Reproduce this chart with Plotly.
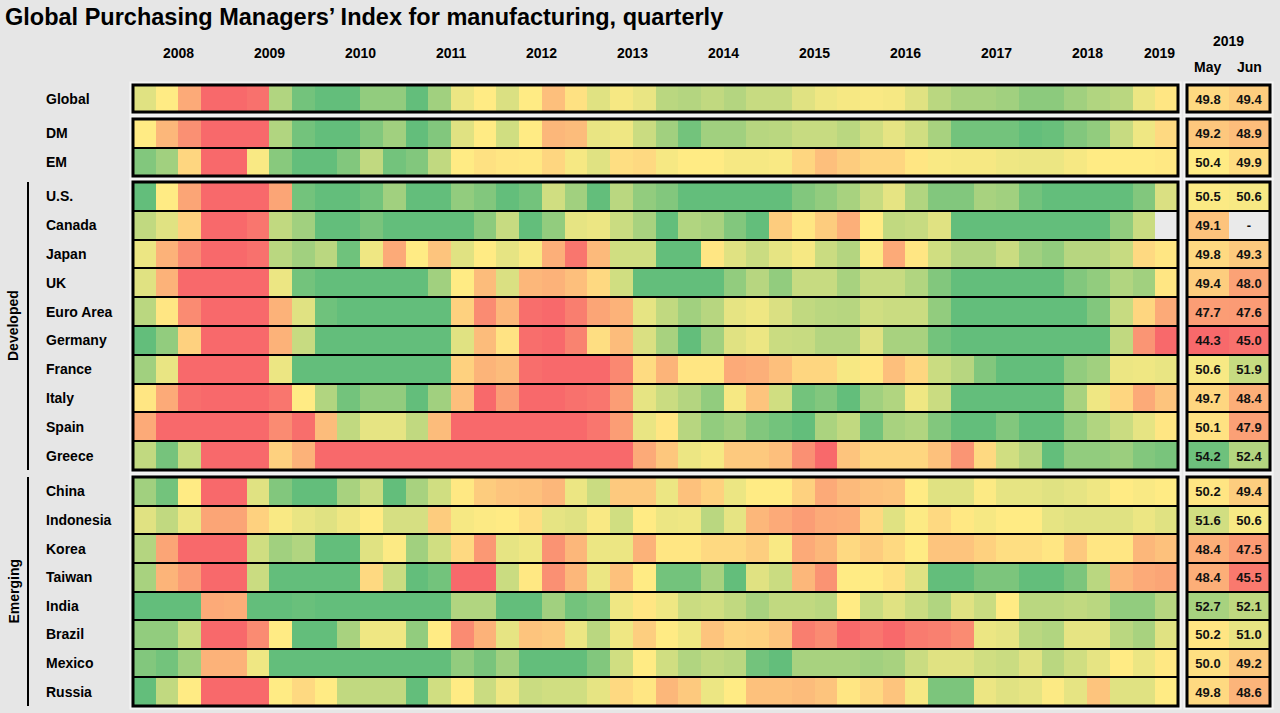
import plotly.graph_objects as go

# ---------------- data ----------------
quarters = ["2008Q1", "2008Q2", "2008Q3", "2008Q4", "2009Q1", "2009Q2", "2009Q3", "2009Q4",
            "2010Q1", "2010Q2", "2010Q3", "2010Q4", "2011Q1", "2011Q2", "2011Q3", "2011Q4",
            "2012Q1", "2012Q2", "2012Q3", "2012Q4", "2013Q1", "2013Q2", "2013Q3", "2013Q4",
            "2014Q1", "2014Q2", "2014Q3", "2014Q4", "2015Q1", "2015Q2", "2015Q3", "2015Q4",
            "2016Q1", "2016Q2", "2016Q3", "2016Q4", "2017Q1", "2017Q2", "2017Q3", "2017Q4",
            "2018Q1", "2018Q2", "2018Q3", "2018Q4", "2019Q1", "2019Q2"]
year_labels = ["2008", "2009", "2010", "2011", "2012", "2013", "2014", "2015",
               "2016", "2017", "2018", "2019"]
table_months = ["May", "Jun"]
table_year = "2019"

rows_top = ["Global"]
rows_dm_em = ["DM", "EM"]
rows_developed = ["U.S.", "Canada", "Japan", "UK", "Euro Area", "Germany", "France",
                  "Italy", "Spain", "Greece"]
rows_emerging = ["China", "Indonesia", "Korea", "Taiwan", "India", "Brazil", "Mexico", "Russia"]

pmi_global = [51, 50, 47.5, 40, 36, 45.3, 52.5, 54.5, 55.5, 55.5, 53.5, 53.5, 55.5, 53, 50.6, 50,
              51.2, 50, 48.3, 49.6, 51, 50.3, 50.7, 52.2, 52.4, 52, 52.4, 51.8, 51.8, 51, 50.5, 50.3,
              50.2, 50.3, 51, 52.2, 52.8, 52.8, 53, 53.7, 53.7, 53, 52.5, 52.2, 50.6, 49.8]
pmi_dm = [50, 48, 46.5, 40, 36, 43, 52.5, 54.5, 55.5, 55.5, 54, 53, 56, 54, 51, 50,
          51.5, 50, 48, 48.2, 50.7, 50.5, 51.7, 53, 54.5, 53, 53, 52.3, 52.2, 51.8, 51.8, 52.2,
          51.5, 50.8, 51.5, 52.8, 54.5, 54.5, 54.5, 55.2, 54.8, 54, 53.5, 51.8, 50.5, 49.3]
pmi_em = [54, 53, 49.2, 42, 42, 50.2, 53.8, 55.2, 55, 54, 52, 54.5, 54, 52, 50, 49.6,
          49.8, 49.9, 49.2, 50.3, 51, 49.5, 49.3, 50.3, 50, 50, 50.3, 50.3, 50.2, 49.2, 48.3, 48.8,
          49.2, 49.2, 49.8, 50.2, 50.3, 50.3, 50.5, 50.6, 50.6, 50.3, 50, 50, 50, 49.9]
pmi_us = [55, 50, 47.3, 38, 36, 42, 47.3, 54.5, 57, 57, 54.5, 53, 57, 55, 53.5, 54,
          55, 54.5, 51.5, 53, 55, 52.2, 53.5, 54, 55.5, 56.5, 57, 56, 55.5, 54, 53.5, 52.8,
          51.8, 50.8, 52.5, 54, 54, 52.8, 53, 54.5, 55.5, 55.8, 55.8, 55.5, 54, 51.2]
pmi_canada = [52, 51, 49, 42, 40, 45.5, 52, 53, 55.2, 56, 54.3, 55, 55.2, 55.2, 55, 53.7,
              51.8, 55, 53.5, 50.8, 50.6, 51.7, 52.8, 55, 52.5, 52.8, 54, 55, 48.8, 49.8, 48.8, 47.7,
              50, 52, 51.8, 51, 55, 55.5, 55.5, 55, 55.5, 55.5, 55.2, 53.5, 51.7, None]
pmi_japan = [50.6, 47.8, 46.3, 38, 32, 45.3, 52.2, 53, 52.2, 54.6, 50.5, 47.5, 50, 48.5, 51, 50,
             50.8, 50.2, 47.7, 45.5, 48.1, 51.5, 51.5, 55, 55.5, 49.8, 51, 51.7, 50.8, 50.3, 51.7, 52.4,
             50.1, 47.5, 49.8, 51.5, 52.4, 52.4, 51.7, 53, 53.5, 52.3, 52.3, 51.8, 49.3, 49.8]
pmi_uk = [51, 47.8, 42, 36, 36, 44, 50.6, 54.5, 56.5, 57.5, 55.5, 57, 57.5, 53, 50, 48.2,
          51.2, 48, 47.8, 48.3, 49.3, 51.5, 56.5, 58, 56.3, 57, 53.5, 52.3, 53.5, 51.8, 51.8, 52.8,
          51.8, 51.8, 52.5, 54, 55.5, 56, 56, 56, 56.5, 54, 53.5, 52.5, 53, 49.8]
pmi_euro = [52.2, 49.8, 46.3, 36, 34, 43, 47.8, 51, 54.6, 56, 56, 55, 57.5, 55, 49, 46.3,
            48, 45.2, 44.8, 45.8, 47.3, 47.8, 50.8, 52, 53, 52.3, 50.8, 50.5, 51.2, 52, 52.2, 52.3,
            51.5, 51.7, 51.7, 53.5, 55.5, 56.5, 57.5, 58.5, 58.2, 55.5, 54, 51.8, 49.2, 47.5]
pmi_germany = [55, 53.5, 49, 38, 33, 40, 47.8, 51.8, 57, 61, 57, 58, 61, 58, 51, 48.2,
               49.7, 45.2, 44.5, 46, 49.5, 48.2, 51.2, 52.8, 55, 53, 51, 50.6, 51.7, 51.8, 52.4, 52.4,
               51, 52.8, 52.8, 54.5, 56.5, 58, 59.5, 60.5, 62, 58, 55.5, 52, 46.7, 44.5]
pmi_france = [53, 50.7, 45, 38, 35, 42, 50.6, 55.5, 56, 57, 56, 56, 57, 55.5, 49, 47.9,
              48.2, 45.2, 44.5, 44, 44.8, 46.2, 49.4, 47.9, 49.8, 49.8, 47.5, 47.7, 48.3, 49.2, 49.2, 50.3,
              49.8, 48.3, 49.2, 51.7, 52.3, 54, 55.5, 56, 56.5, 53.5, 53, 50.6, 50.5, 50.7]
pmi_italy = [49.8, 47.5, 45.2, 38, 35, 41, 45.5, 50, 52.5, 54.5, 53.5, 53.5, 55.5, 53, 48.3, 44.5,
             47, 45, 44.5, 45.3, 45.5, 47, 50.8, 51.7, 52.4, 53.5, 50.3, 48.5, 51.5, 54.5, 54, 55,
             53, 52.5, 50.5, 51.7, 55.5, 56, 56.5, 56.5, 57.5, 52.8, 50.5, 49.2, 47.5, 48.5]
pmi_spain = [47.5, 44.5, 41, 36, 34, 38, 46.3, 45.2, 48.2, 52, 50.8, 50.8, 52, 48.2, 44.5, 44,
             44.8, 43, 43.5, 44.5, 45.5, 47, 50.7, 49.8, 52.3, 53.5, 53, 54, 54.5, 55, 52.7, 52,
             54.5, 52.8, 52.5, 54, 55, 55, 54, 55.5, 55.5, 53.5, 52.5, 51.7, 50.8, 49.8]
pmi_greece = [52, 54.4, 51.7, 42, 40, 42, 49, 47.8, 43, 43.5, 42.5, 42.5, 43, 42, 42.5, 41,
              41.5, 41, 42.5, 41.5, 42.5, 45, 47.5, 48.6, 50.6, 50.3, 48.7, 48.7, 48.3, 46.5, 41, 48.5,
              49.2, 49.2, 49.2, 48.4, 46.7, 49.3, 51.5, 52.3, 55, 53.5, 53.5, 53.2, 54, 54.3]
pmi_china = [53, 54.5, 50, 42, 43.5, 51, 54, 55.5, 56, 52.8, 51.7, 55, 52.8, 51.5, 49.9, 48.8,
             48.5, 48.4, 48, 50.6, 51.7, 48.7, 48.7, 50.6, 48.4, 49, 50.6, 50, 50, 49, 47.5, 48.1,
             48.4, 48.5, 50, 51, 51, 50.1, 50.8, 50.8, 51, 50.8, 50.5, 50, 50.2, 50]
pmi_indonesia = [51, 52, 50.6, 47.3, 47.3, 49, 50.2, 50.7, 51, 50.5, 50, 51.3, 51.3, 48.8, 50.3, 50.1,
                 50, 49.5, 50.8, 51, 50.2, 51.5, 50, 50.6, 50.5, 52.2, 50.8, 48, 47.5, 47, 47.5, 47.6,
                 49.3, 51, 50.1, 49.3, 49.9, 50.3, 50, 50, 50.8, 51, 51, 51, 50.6, 51]
pmi_korea = [52.4, 47.3, 45, 38, 40, 51.5, 53, 52.5, 55.5, 55.5, 51, 50.1, 53, 51.5, 49.3, 46.8,
             50.8, 50.5, 46.6, 48, 50.6, 50.6, 47.8, 49.8, 49.8, 49.3, 49.3, 48.9, 50.2, 47.5, 48, 49.3,
             48.8, 49.3, 50, 48.5, 48.5, 49, 49.5, 49.5, 49.8, 48.7, 49.8, 49.8, 48, 48.4]
pmi_taiwan = [52.8, 47.9, 47, 38, 36, 51.7, 55.5, 56, 56.5, 55.5, 49.3, 51.7, 55.2, 54.5, 45, 44,
              51.7, 49.9, 46.5, 48, 50.6, 48.4, 50, 54.5, 54.5, 52.8, 55.2, 51, 51.7, 48, 46.6, 50,
              50, 49.6, 51, 55, 56, 54.2, 54.2, 55.2, 55.2, 54.2, 52.2, 48, 47.5, 47.3]
pmi_india = [57, 57, 56, 47.5, 47.6, 55.2, 55, 54.8, 57, 58, 57, 57, 57.5, 56, 52.5, 52.5,
             55.5, 55, 53, 54.5, 54, 50.5, 49.8, 50.5, 51.7, 51.5, 52, 52.8, 52, 52, 52.2, 50,
             51.7, 51, 51.7, 52.5, 51, 51.7, 50, 52.2, 52.2, 52, 52.2, 53.5, 53.5, 52.3]
pmi_brazil = [53.5, 53.5, 51.7, 40, 42, 46.3, 50, 55.5, 56, 52.8, 50.5, 50.5, 53.5, 50, 46.3, 47.8,
              50.8, 48.5, 48.7, 50.6, 52.2, 50.5, 48.9, 50, 50.5, 48.5, 49.1, 49, 48.5, 45.8, 46.3, 43.5,
              45.5, 44.8, 45.7, 45.9, 46.3, 50.6, 50.8, 52.2, 52.5, 50.8, 50.8, 52.2, 52.8, 51]
pmi_mexico = [54, 54.5, 53, 47.8, 47.8, 50.5, 55.2, 55.5, 56, 56, 55.5, 55.5, 55.5, 55.5, 53.5, 54.3,
              53, 55.2, 55.5, 55.2, 54, 51.5, 50, 51.5, 52.5, 52, 52.2, 54.5, 55, 52.8, 52.8, 52.8,
              53, 52.8, 51.7, 51, 51, 51.5, 51.7, 51, 52.2, 51.5, 50.8, 50, 50.6, 49.9]
pmi_russia = [55.5, 52, 50, 42, 40, 45, 50, 49.3, 50, 52, 52, 52, 55.2, 51.5, 50, 51.7,
              50.5, 51.7, 51.5, 51.5, 50.8, 49.3, 49.8, 48, 48.7, 50.6, 50, 48.4, 48.4, 48.2, 48.5, 49.8,
              49.3, 48.5, 50.3, 54.2, 54.2, 50.6, 51, 50.8, 50.1, 50.8, 48.5, 51, 51, 50]

# monthly readings for 2019 (same row order as all rows)
may_2019 = [49.8, 49.2, 50.4, 50.5, 49.1, 49.8, 49.4, 47.7, 44.3, 50.6, 49.7, 50.1, 54.2,
            50.2, 51.6, 48.4, 48.4, 52.7, 50.2, 50.0, 49.8]
jun_2019 = [49.4, 48.9, 49.9, 50.6, None, 49.3, 48.0, 47.6, 45.0, 51.9, 48.4, 47.9, 52.4,
            49.4, 50.6, 47.5, 45.5, 52.1, 51.0, 49.2, 48.6]

# ---------------- assembly ----------------
all_rows = rows_top + rows_dm_em + rows_developed + rows_emerging
quarterly = [pmi_global, pmi_dm, pmi_em, pmi_us, pmi_canada, pmi_japan, pmi_uk, pmi_euro,
             pmi_germany, pmi_france, pmi_italy, pmi_spain, pmi_greece, pmi_china, pmi_indonesia,
             pmi_korea, pmi_taiwan, pmi_india, pmi_brazil, pmi_mexico, pmi_russia]
row_q = dict(zip(all_rows, quarterly))
row_may = dict(zip(all_rows, may_2019))
row_jun = dict(zip(all_rows, jun_2019))

groups = [("", rows_top), ("", rows_dm_em), ("Developed", rows_developed), ("Emerging", rows_emerging)]

W, H = 1280, 713
FONT = "Arial, Liberation Sans, Helvetica, sans-serif"
BG = "#E6E6E6"
HALO = "#F4F4F4"
MISSING = "#EAEAEA"
heat_px = (133, 1178)
table_px = (1187, 1270)
group_px = [(85, 112), (119, 176), (182, 470), (477, 706)]

heat_cs = [[0, "#F8696B"], [0.5, "#FFEB84"], [1, "#63BE7B"]]
t_min, t_max = 44.5, 54.5
table_cs = [[0, "#F8696B"], [(48.0 - t_min) / (t_max - t_min), "#FBA276"],
            [(50.4 - t_min) / (t_max - t_min), "#FFEB84"], [1, "#63BE7B"]]
gray_cs = [[0, MISSING], [1, MISSING]]

fig = go.Figure()
layout_axes = {}
halo_shapes = []
shapes = []
annotations = []

for g, (gname, rows) in enumerate(groups):
    yname = "y" if g == 0 else f"y{g + 1}"
    ykey = "yaxis" if g == 0 else f"yaxis{g + 1}"
    top, bot = group_px[g]
    layout_axes[ykey] = dict(domain=[1 - bot / H, 1 - top / H], type="category",
                             categoryorder="array", categoryarray=rows,
                             range=[len(rows) - 0.5, -0.5], showticklabels=False,
                             showgrid=False, zeroline=False, fixedrange=True, anchor="x")

    # quarterly heatmap
    z = [row_q[r] for r in rows]
    fig.add_trace(go.Heatmap(x=quarters, y=rows, z=z, xaxis="x", yaxis=yname,
                             colorscale=heat_cs, zmin=45, zmax=55, showscale=False,
                             ygap=2, hoverongaps=False))
    miss = [[1 if v is None else None for v in row_q[r]] for r in rows]
    if any(v is not None for row in miss for v in row):
        fig.add_trace(go.Heatmap(x=quarters, y=rows, z=miss, xaxis="x", yaxis=yname,
                                 colorscale=gray_cs, zmin=0, zmax=1, showscale=False,
                                 ygap=2, hoverinfo="skip"))

    # monthly table
    tz = [[row_may[r], row_jun[r]] for r in rows]
    tt = [["<b>%.1f</b>" % v if v is not None else "" for v in row] for row in tz]
    fig.add_trace(go.Heatmap(x=table_months, y=rows, z=tz, text=tt, texttemplate="%{text}",
                             textfont=dict(family=FONT, size=13, color="#111111"),
                             xaxis="x2", yaxis=yname, colorscale=table_cs, zmin=t_min, zmax=t_max,
                             showscale=False, ygap=2, hoverongaps=False))
    tmiss = [[1 if v is None else None for v in row] for row in tz]
    if any(v is not None for row in tmiss for v in row):
        tmt = [["<b>-</b>" if v is not None else "" for v in row] for row in tmiss]
        fig.add_trace(go.Heatmap(x=table_months, y=rows, z=tmiss, text=tmt, texttemplate="%{text}",
                                 textfont=dict(family=FONT, size=13, color="#111111"),
                                 xaxis="x2", yaxis=yname, colorscale=gray_cs, zmin=0, zmax=1,
                                 showscale=False, ygap=2, hoverinfo="skip"))

    # outer borders (with a light halo just outside)
    hpx = bot - top
    for xr, (xa, xb) in (("x", heat_px), ("x2", table_px)):
        wpx = xb - xa
        halo_shapes.append(dict(type="rect", xref=f"{xr} domain", yref=f"{yname} domain",
                                x0=-2.6 / wpx, x1=1 + 2.6 / wpx, y0=-2.6 / hpx, y1=1 + 2.6 / hpx,
                                line=dict(color=HALO, width=2)))
        shapes.append(dict(type="rect", xref=f"{xr} domain", yref=f"{yname} domain",
                           x0=0, x1=1, y0=0, y1=1, line=dict(color="black", width=3)))

    # row labels
    for r in rows:
        annotations.append(dict(text=f"<b>{r}</b>", x=44 / W, xref="paper", xanchor="left",
                                y=r, yref=yname, yanchor="middle", showarrow=False,
                                font=dict(family=FONT, size=14, color="black")))

    # group labels with bracket line
    if gname:
        shapes.append(dict(type="line", xref="paper", yref=f"{yname} domain",
                           x0=28 / W, x1=28 / W, y0=0, y1=1, line=dict(color="black", width=2)))
        annotations.append(dict(text=f"<b>{gname}</b>", x=13 / W, xref="paper", xanchor="center",
                                y=1 - (top + bot) / 2 / H, yref="paper", yanchor="middle",
                                textangle=-90, showarrow=False,
                                font=dict(family=FONT, size=14, color="black")))

# year labels above the quarterly columns
for yr in year_labels:
    idx = [i for i, q in enumerate(quarters) if q.startswith(yr)]
    annotations.append(dict(text=f"<b>{yr}</b>", x=(idx[0] + idx[-1]) / 2, xref="x",
                            xshift=4 if len(idx) < 4 else 0,
                            y=1 - 53 / H, yref="paper", yanchor="middle", showarrow=False,
                            font=dict(family=FONT, size=14, color="black")))

# table header
annotations.append(dict(text=f"<b>{table_year}</b>", x=0.5, xref="x2 domain", y=1 - 41 / H,
                        yref="paper", yanchor="middle", showarrow=False,
                        font=dict(family=FONT, size=14, color="black")))
for m in table_months:
    annotations.append(dict(text=f"<b>{m}</b>", x=m, xref="x2", y=1 - 67 / H, yref="paper",
                            yanchor="middle", showarrow=False,
                            font=dict(family=FONT, size=14, color="black")))

# title
annotations.append(dict(text="<b>Global Purchasing Managers’ Index for manufacturing, quarterly</b>",
                        x=3 / W, xref="paper", xanchor="left", y=1 - 17 / H, yref="paper",
                        yanchor="middle", showarrow=False,
                        font=dict(family=FONT, size=23.5, color="black")))

fig.update_layout(
    width=W, height=H, margin=dict(l=0, r=0, t=0, b=0),
    paper_bgcolor=BG, plot_bgcolor="black", showlegend=False,
    xaxis=dict(domain=[heat_px[0] / W, heat_px[1] / W], type="category",
               categoryorder="array", categoryarray=quarters, range=[-0.5, len(quarters) - 0.5],
               showticklabels=False, showgrid=False, zeroline=False, fixedrange=True, anchor="y4"),
    xaxis2=dict(domain=[table_px[0] / W, table_px[1] / W], type="category",
                categoryorder="array", categoryarray=table_months, range=[-0.5, 1.5],
                showticklabels=False, showgrid=False, zeroline=False, fixedrange=True, anchor="y4"),
    shapes=halo_shapes + shapes, annotations=annotations,
    **layout_axes,
)

fig.write_html("out.html", config={"displayModeBar": False},
               post_script="document.body.style.margin='0';")
